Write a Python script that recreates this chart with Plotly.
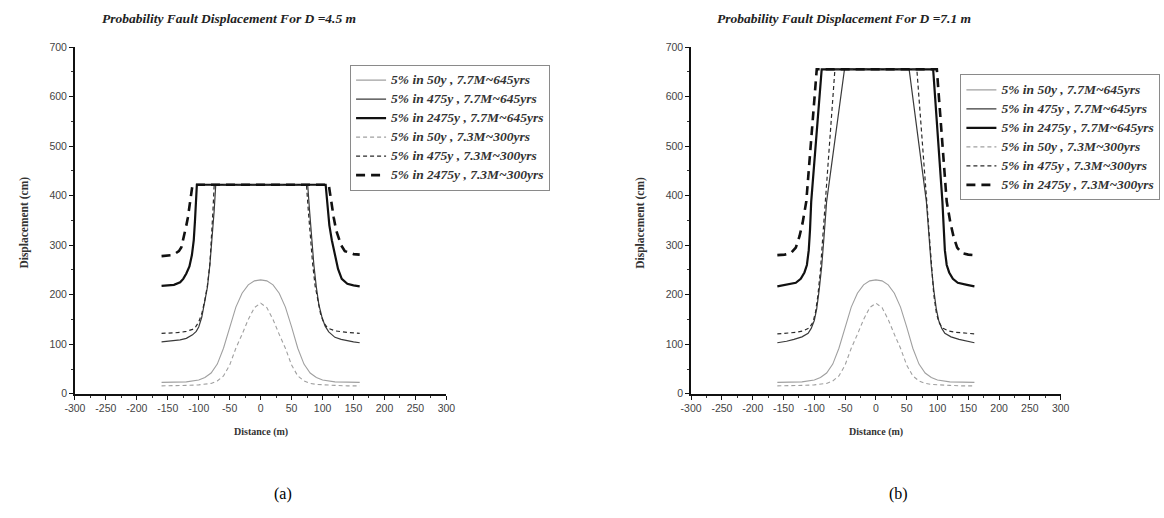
import plotly.graph_objects as go

# ---------------- data ----------------
series_names = [
    "5% in 50y , 7.7M~645yrs",
    "5% in 475y , 7.7M~645yrs",
    "5% in 2475y , 7.7M~645yrs",
    "5% in 50y , 7.3M~300yrs",
    "5% in 475y , 7.3M~300yrs",
    "5% in 2475y , 7.3M~300yrs",
]
panel_titles = ["Probability Fault Displacement For D =4.5 m",
                "Probability Fault Displacement For D =7.1 m"]
panel_labels = ["(a)", "(b)"]
x_ticks = [-300, -250, -200, -150, -100, -50, 0, 50, 100, 150, 200, 250, 300]
y_ticks = [0, 100, 200, 300, 400, 500, 600, 700]

# 50-year curves (same shape in both panels)
bump_x = [-160, -140, -120, -100, -90, -80, -70, -60, -50, -40, -30, -20, -10, 0,
          10, 20, 30, 40, 50, 60, 70, 80, 90, 100, 120, 140, 160]
y50_77 = [23, 23, 24, 28, 33, 42, 60, 92, 135, 175, 203, 220, 228, 230,
          228, 220, 203, 175, 135, 92, 60, 42, 33, 28, 24, 23, 23]
y50_73 = [16, 16, 17, 18, 19, 21, 26, 36, 58, 92, 120, 150, 174, 183,
          174, 150, 120, 92, 58, 36, 26, 21, 19, 18, 17, 16, 16]

# Panel (a): D = 4.5 m
a_x475_77 = [-160, -150, -140, -130, -120, -110, -104, -100, -95, -90, -86, -82, -78, -75, -72.5,
             76, 79, 82, 86, 90, 94, 99, 104, 110, 120, 130, 140, 150, 160]
a_y475_77 = [105, 106, 107, 109, 112, 119, 126, 135, 155, 185, 215, 260, 316, 370, 422,
             422, 370, 316, 260, 215, 180, 155, 137, 125, 114, 110, 107, 105, 103]
a_x475_73 = [-160, -150, -140, -130, -120, -110, -105, -100, -95, -90, -86, -82, -79, -77, -75,
             74, 77, 80, 84, 88, 92, 97, 102, 108, 120, 130, 140, 150, 160]
a_y475_73 = [122, 122, 123, 124, 126, 130, 135, 145, 162, 190, 218, 262, 316, 370, 422,
             422, 370, 316, 262, 218, 190, 160, 143, 133, 127, 125, 124, 123, 122]
a_x2475_77 = [-160, -150, -140, -130, -125, -120, -115, -111, -108, -106, -104.5, -103,
              105, 108, 111, 115, 120, 125, 131, 140, 150, 160]
a_y2475_77 = [218, 219, 220, 225, 232, 243, 257, 280, 310, 350, 390, 422,
              422, 380, 340, 310, 280, 252, 232, 222, 219, 217]
a_x2475_73 = [-160, -150, -144, -138, -132, -128, -124, -120, -117.5, -114, -110,
              110, 114, 118, 122, 126, 130, 136, 150, 160]
a_y2475_73 = [278, 279, 280, 283, 288, 296, 315, 340, 356, 385, 422,
              422, 385, 356, 330, 316, 300, 288, 282, 281]

# Panel (b): D = 7.1 m
b_x475_77 = [-160, -145, -133, -120, -110, -105, -100, -96, -92, -88, -84, -80, -51,
             54, 82, 86, 90, 94, 98, 102, 107, 112, 122, 135, 147, 160]
b_y475_77 = [103, 106, 110, 115, 122, 132, 148, 172, 210, 257, 320, 388, 655,
             655, 388, 320, 257, 210, 172, 148, 132, 122, 115, 110, 106, 103]
b_x475_73 = [-160, -145, -130, -118, -108, -102, -98, -94, -90, -86, -82, -66.5,
             66.5, 82, 86, 90, 94, 98, 102, 108, 118, 130, 145, 160]
b_y475_73 = [121, 122, 124, 127, 133, 145, 165, 200, 250, 320, 388, 655,
             655, 388, 320, 250, 200, 165, 145, 133, 127, 124, 122, 121]
b_x2475_77 = [-160, -145, -130, -122, -116, -112, -109, -107, -105, -88,
              93, 108, 110, 112, 115, 119, 125, 133, 148, 160]
b_y2475_77 = [217, 220, 224, 232, 245, 260, 290, 330, 388, 655,
              655, 388, 330, 290, 260, 245, 232, 224, 220, 217]
b_x2475_73 = [-160, -148, -138, -130, -124, -119, -113, -96,
              99, 115, 121, 126, 132, 140, 150, 160]
b_y2475_73 = [280, 281, 284, 295, 318, 345, 388, 655,
              655, 388, 345, 318, 295, 284, 281, 280]

panels = [
    [(bump_x, y50_77), (a_x475_77, a_y475_77), (a_x2475_77, a_y2475_77),
     (bump_x, y50_73), (a_x475_73, a_y475_73), (a_x2475_73, a_y2475_73)],
    [(bump_x, y50_77), (b_x475_77, b_y475_77), (b_x2475_77, b_y2475_77),
     (bump_x, y50_73), (b_x475_73, b_y475_73), (b_x2475_73, b_y2475_73)],
]

# ---------------- styles ----------------
styles = [
    dict(color="#a0a0a0", width=1.1, dash="solid"),
    dict(color="#3a3a3a", width=1.2, dash="solid"),
    dict(color="#111111", width=2.2, dash="solid"),
    dict(color="#a0a0a0", width=1.1, dash="4px,3px"),
    dict(color="#2a2a2a", width=1.2, dash="4px,3px"),
    dict(color="#111111", width=2.6, dash="9px,6px"),
]

W, H = 1164, 518
plot_px = [(65, 443), (692, 1068)]
y0_px, y700_px = 397, 42

fig = go.Figure()
for p, traces in enumerate(panels):
    xa = "x" if p == 0 else "x2"
    ya = "y" if p == 0 else "y2"
    lg = "legend" if p == 0 else "legend2"
    for i, (xs, ys) in enumerate(traces):
        fig.add_trace(go.Scatter(
            x=xs, y=ys, mode="lines",
            name='<span style="font-size:13.5px"><b><i>' + series_names[i] + "</i></b></span>",
            line=styles[i], xaxis=xa, yaxis=ya, legend=lg, hoverinfo="skip"))

tick_font = dict(family="Liberation Sans, Arial", size=10.5, color="#444")
def xaxis_cfg(p):
    l, r = plot_px[p]
    return dict(domain=[l / W, r / W], range=[-300, 300], tickvals=x_ticks,
                ticktext=[str(v) for v in x_ticks],
                showline=True, linecolor="#111", linewidth=1.6, mirror=False,
                ticks="outside", ticklen=4, tickwidth=1.4, tickcolor="#111",
                minor=dict(dtick=25, ticklen=2, tickwidth=1, tickcolor="#333", ticks="outside"),
                showgrid=False, zeroline=False, tickfont=tick_font,
                anchor="y" if p == 0 else "y2", fixedrange=True)
def yaxis_cfg(p):
    return dict(domain=[1 - y0_px / H, 1 - y700_px / H], range=[0, 700], tickvals=y_ticks,
                showline=True, linecolor="#111", linewidth=1.6,
                ticks="outside", ticklen=4, tickwidth=1.4, tickcolor="#111",
                minor=dict(dtick=50, ticklen=2, tickwidth=1, tickcolor="#333", ticks="outside"),
                showgrid=False, zeroline=False, tickfont=tick_font,
                anchor="x" if p == 0 else "x2", fixedrange=True)

legend_common = dict(bgcolor="white", bordercolor="#8a8a8a", borderwidth=1,
                     font=dict(family="Liberation Serif, Times New Roman", size=11, color="#333"),
                     itemwidth=30, tracegroupgap=0, xanchor="left", yanchor="top",
                     itemclick=False, itemdoubleclick=False)

fig.update_layout(
    width=W, height=H, autosize=False,
    margin=dict(l=0, r=0, t=0, b=0),
    paper_bgcolor="white", plot_bgcolor="white",
    xaxis=xaxis_cfg(0), yaxis=yaxis_cfg(0),
    xaxis2=xaxis_cfg(1), yaxis2=yaxis_cfg(1),
    legend=dict(x=345 / W, y=1 - 60 / H, **legend_common),
    legend2=dict(x=966 / W, y=1 - 70 / H, **legend_common),
    showlegend=True,
)

serif = "Liberation Serif, Times New Roman"
title_cx = [222, 848]
axis_cx = [254, 880]
ylab_x = [14, 641]
label_cx = [277, 903]
for p in range(2):
    fig.add_annotation(x=title_cx[p] / W, y=1 - 13 / H, xref="paper", yref="paper",
                       xanchor="center", yanchor="middle",
                       text="<b><i>" + panel_titles[p] + "</i></b>", showarrow=False,
                       font=dict(family=serif, size=13.5, color="#222"))
    fig.add_annotation(x=axis_cx[p] / W, y=1 - 436 / H, xref="paper", yref="paper",
                       xanchor="center", yanchor="middle",
                       text="<b>Distance (m)</b>", showarrow=False,
                       font=dict(family=serif, size=10, color="#333"))
    fig.add_annotation(x=ylab_x[p] / W, y=1 - 222 / H, xref="paper", yref="paper",
                       xanchor="center", yanchor="middle",
                       text="<b>Displacement (cm)</b>", showarrow=False, textangle=-90,
                       font=dict(family=serif, size=11.5, color="#333"))
    fig.add_annotation(x=label_cx[p] / W, y=1 - 500 / H, xref="paper", yref="paper",
                       xanchor="center", yanchor="middle",
                       text=panel_labels[p], showarrow=False,
                       font=dict(family=serif, size=16, color="#000"))

fig.write_html("out.html", config={"displayModeBar": False},
               post_script="document.body.style.margin='0';")
